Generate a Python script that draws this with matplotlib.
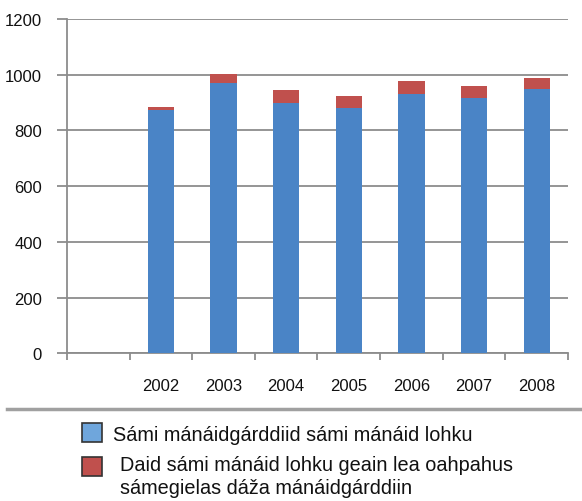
import numpy as np
import matplotlib.pyplot as plt
from matplotlib.patches import Rectangle
from matplotlib.lines import Line2D

plt.rcParams['font.family'] = ['Liberation Sans', 'DejaVu Sans']

# first slot on the category axis is empty in the original
years = ['', '2002', '2003', '2004', '2005', '2006', '2007', '2008']
sami_kindergartens = [np.nan, 873, 970, 898, 880, 930, 917, 950]
other_kindergartens = [np.nan, 10, 32, 48, 43, 46, 44, 37]
labels = ['Sámi mánáidgárddiid sámi mánáid lohku',
          'Daid sámi mánáid lohku geain lea oahpahus\nsámegielas dáža mánáidgárddiin']

blue = '#4a84c6'
red = '#c0504d'
grid_col = '#8c8c8c'

fig = plt.figure(figsize=(5.82, 5.02), dpi=100)
ax = fig.add_axes([0.115, 0.2942, 0.861, 0.6659])

x = np.arange(len(years))
ax.bar(x, sami_kindergartens, width=0.42, color=blue, zorder=3)
ax.bar(x, other_kindergartens, width=0.42, bottom=sami_kindergartens, color=red, zorder=3)

ax.set_xlim(-0.5, len(years) - 0.5)
ax.set_ylim(0, 1200)
ax.set_yticks(np.arange(0, 1201, 200))
ax.yaxis.grid(True, color=grid_col, linewidth=1.3, zorder=0)

# ticks on category boundaries, labels in the middle
ax.set_xticks(np.arange(-0.5, len(years), 1.0))
ax.set_xticklabels([])
ax.set_xticks(x, minor=True)
ax.set_xticklabels(years, minor=True)
ax.tick_params(axis='x', which='major', length=5, color=grid_col, width=1.3, direction='out')
ax.tick_params(axis='x', which='minor', length=0, pad=18, labelsize=12, labelcolor='#111111')
ax.tick_params(axis='y', length=7, color=grid_col, width=1.3, pad=11, labelsize=12,
               labelcolor='#111111')

for s in ['top', 'right']:
    ax.spines[s].set_visible(False)
for s in ['left', 'bottom']:
    ax.spines[s].set_color(grid_col)
    ax.spines[s].set_linewidth(1.3)

# separator above the legend
fig.add_artist(Line2D([7 / 582, 580 / 582], [1 - 410 / 502, 1 - 410 / 502],
                      color='#a0a0a0', linewidth=2.5))

# hand-made legend
legend_cols = ['#6fa6dc', red]
rows = [(424, 113, 426), (458, 120, 456)]
for col, lab, (ytop, xtext, ttop) in zip(legend_cols, labels, rows):
    fig.add_artist(Rectangle((82 / 582, 1 - (ytop + 19) / 502), 20 / 582, 19 / 502,
                             facecolor=col, edgecolor='#333333', linewidth=1.2,
                             transform=fig.transFigure))
    fig.text(xtext / 582, 1 - ttop / 502, lab, fontsize=14.3,
             ha='left', va='top', linespacing=1.3, color='#111111')

plt.savefig('out.png', dpi=100)
